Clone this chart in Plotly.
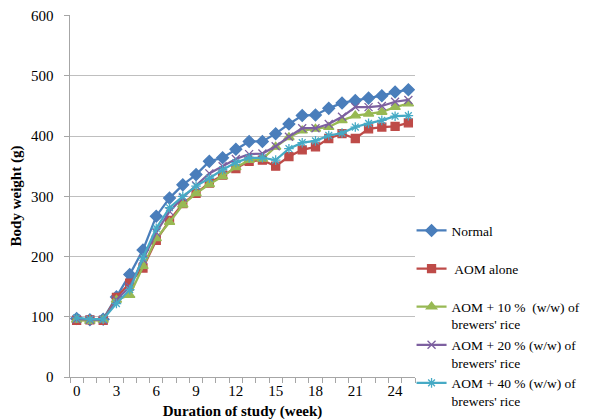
import plotly.graph_objects as go

weeks = list(range(26))

normal = [97, 95, 96, 133, 170, 211, 267, 297, 319, 336, 358, 364, 378, 391, 391,
          404, 420, 434, 435, 446, 455, 459, 463, 467, 473, 477]
aom_alone = [94, 95, 94, 132, 156, 181, 227, 260, 288, 305, 322, 335, 346, 358, 360,
             350, 366, 377, 382, 396, 404, 396, 412, 415, 416, 422]
aom_10 = [95, 93, 95, 128, 136, 184, 230, 257, 286, 305, 320, 333, 348, 360, 362,
          382, 398, 409, 412, 415, 426, 434, 437, 440, 448, 454]
aom_20 = [96, 95, 95, 128, 150, 195, 240, 275, 298, 318, 338, 350, 362, 370, 371,
          383, 399, 413, 413, 420, 432, 448, 448, 450, 457, 460]
aom_40 = [98, 96, 96, 122, 145, 198, 247, 281, 300, 317, 330, 344, 356, 364, 364,
          360, 379, 389, 392, 401, 405, 415, 421, 426, 433, 434]

series_names = ["Normal<br> ", " AOM alone<br> ", "AOM + 10 %  (w/w) of<br>brewers' rice",
                "AOM + 20 % (w/w) of<br>brewers' rice", "AOM + 40 % (w/w) of<br>brewers' rice"]
series_values = [normal, aom_alone, aom_10, aom_20, aom_40]

x_tick_vals = [0, 3, 6, 9, 12, 15, 18, 21, 24]
y_tick_vals = [0, 100, 200, 300, 400, 500, 600]
y_tick_text = ["0", "100", "200", "300", "400", "500", "600"]

colors = ["#4A7EBB", "#BE4B48", "#98B954", "#7D60A0", "#46AAC5"]
symbols = ["diamond", "square", "triangle-up", "x-thin-open", "asterisk-open"]
sizes = [9, 8, 9, 8, 8]

FONT = "Liberation Serif, Times New Roman, serif"

fig = go.Figure()
for i, (name, vals) in enumerate(zip(series_names, series_values)):
    fig.add_trace(go.Scatter(
        x=weeks, y=vals, name=name, mode="lines+markers",
        line=dict(color=colors[i], width=2.25),
        marker=dict(symbol=symbols[i], size=sizes[i], color=colors[i],
                    line=dict(color=colors[i], width=1.3)),
        legendgroup=str(i),
    ))

fig.update_layout(
    width=600, height=419,
    margin=dict(l=62, r=193, t=7, b=50, autoexpand=False),
    paper_bgcolor="white", plot_bgcolor="white",
    font=dict(family=FONT, size=14, color="#000000"),
    showlegend=True,
    legend=dict(
        x=0.99, xanchor="left", y=0.447, yanchor="top",
        font=dict(family=FONT, size=13.5, color="#000000"),
        tracegroupgap=0, valign="top",
        bgcolor="rgba(0,0,0,0)", itemwidth=30,
    ),
    xaxis=dict(
        range=[-0.5, 25.5], tickmode="array", tickvals=x_tick_vals,
        ticks="", showgrid=False, zeroline=False,
        showline=True, linecolor="#A6A6A6", linewidth=1,
        tickfont=dict(family=FONT, size=15),
        minor=dict(tickmode="linear", tick0=-0.5, dtick=1, ticks="outside",
                   ticklen=5, tickcolor="#A6A6A6", showgrid=False),
        title=dict(text="<b>Duration of study (week)</b>", font=dict(family=FONT, size=15), standoff=7),
    ),
    yaxis=dict(
        range=[0, 601], tickmode="array", tickvals=y_tick_vals,
        ticktext=[t + "\u00a0\u00a0" for t in y_tick_text],
        ticks="outside", ticklen=5, tickcolor="#A6A6A6",
        showgrid=True, gridcolor="#BFBFBF", gridwidth=1, zeroline=False,
        showline=True, linecolor="#A6A6A6", linewidth=1,
        tickfont=dict(family=FONT, size=15),
        ticklabeloverflow="allow",
        title=dict(text="<b>Body weight (g)</b>", font=dict(family=FONT, size=15), standoff=17),
    ),
)

fig.write_html("out.html")
